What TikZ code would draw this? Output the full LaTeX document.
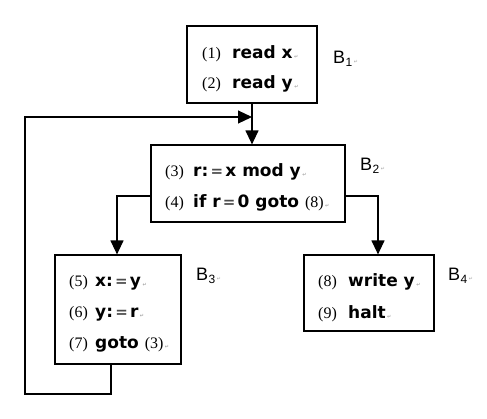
\documentclass[tikz,border=0pt]{standalone}
\usepackage{fontspec}
\setmainfont{Liberation Serif}
\newfontfamily\codefont{DejaVu Sans}
\newfontfamily\labfont{Liberation Sans}
\newfontfamily\symfont{DejaVu Sans}
\usetikzlibrary{arrows.meta}
\newcommand\pmk{\kern1.5pt{\symfont\fontsize{5}{5}\selectfont\color{gray!70}↵}}
\newcommand\eqs{\makebox[17pt]{\symfont\fontsize{15}{15}\selectfont\color{black!70}=}}
\newcommand\blab[1]{B\kern0.5pt\raisebox{-3pt}{\fontsize{12}{12}\selectfont #1}}
\begin{document}
\begin{tikzpicture}[x=1pt,y=1pt,
  box/.style={draw, line width=1.2pt, inner sep=0pt},
  num/.style={anchor=base west, inner sep=0pt, font=\fontsize{16}{16}\selectfont},
  code/.style={anchor=base west, inner sep=0pt, font=\codefont\bfseries\fontsize{17}{17}\selectfont},
  blabel/.style={anchor=base west, inner sep=0pt, font=\labfont\fontsize{18}{18}\selectfont},
  conn/.style={line width=1.2pt},
  arr/.style={conn, -{Triangle[length=14pt,width=13pt]}}]
\useasboundingbox (0,0) rectangle (487,-418);
% boxes
\node[box, minimum width=130pt, minimum height=77pt] (b1) at (252,-64.5) {};
\node[box, minimum width=194pt, minimum height=77pt] (b2) at (248,-183.5) {};
\node[box, minimum width=126pt, minimum height=109pt] (b3) at (118,-309.5) {};
\node[box, minimum width=130pt, minimum height=76pt] (b4) at (369,-293) {};
% B1 text
\node[num] (n1) at (202,-58) {(1)};
\node[code] (c1) at (232,-58) {read x\pmk};
\node[num] (n2) at (202,-88) {(2)};
\node[code] (c2) at (232,-88) {read y\pmk};
\node[blabel] (l1) at (333,-63) {\blab{1}\pmk};
% B2 text
\node[num] (n3) at (165,-176) {(3)};
\node[code] (c3) at (193,-176) {r:\eqs x mod y\pmk};
\node[num] (n4) at (165,-207) {(4)};
\node[code] (c4) at (193,-207) {if r\eqs 0 goto\ {\rmfamily\mdseries\fontsize{16}{16}\selectfont (8)}\pmk};
\node[blabel] (l2) at (360,-170) {\blab{2}\pmk};
% B3 text
\node[num] (n5) at (69,-286) {(5)};
\node[code] (c5) at (95,-286) {x:\eqs y\pmk};
\node[num] (n6) at (69,-317) {(6)};
\node[code] (c6) at (95,-317) {y:\eqs r\pmk};
\node[num] (n7) at (69,-348) {(7)};
\node[code] (c7) at (95,-348) {goto\ {\rmfamily\mdseries\fontsize{16}{16}\selectfont (3)}\pmk};
\node[blabel] (l3) at (196,-280) {\blab{3}\pmk};
% B4 text
\node[num] (n8) at (318,-286) {(8)};
\node[code] (c8) at (348,-286) {write y\pmk};
\node[num] (n9) at (318,-318) {(9)};
\node[code] (c9) at (348,-318) {halt\pmk};
\node[blabel] (l4) at (448,-280) {\blab{4}\pmk};
% connectors
\coordinate (lp1) at (25,-394);
\coordinate (lp2) at (25,-117);
\coordinate (brl) at (117,-196);
\coordinate (brr) at (378,-196);
\draw[arr] (b1.south) -- (b1.south |- b2.north);
\draw[arr] (brl -| b2.west) -- (brl) -- (brl |- b3.north);
\draw[arr] (brr -| b2.east) -- (brr) -- (brr |- b4.north);
\draw[arr] ([xshift=-7pt]b3.south) |- (lp1) -- (lp2) -- (b1.south |- lp2);
\end{tikzpicture}
\end{document}
